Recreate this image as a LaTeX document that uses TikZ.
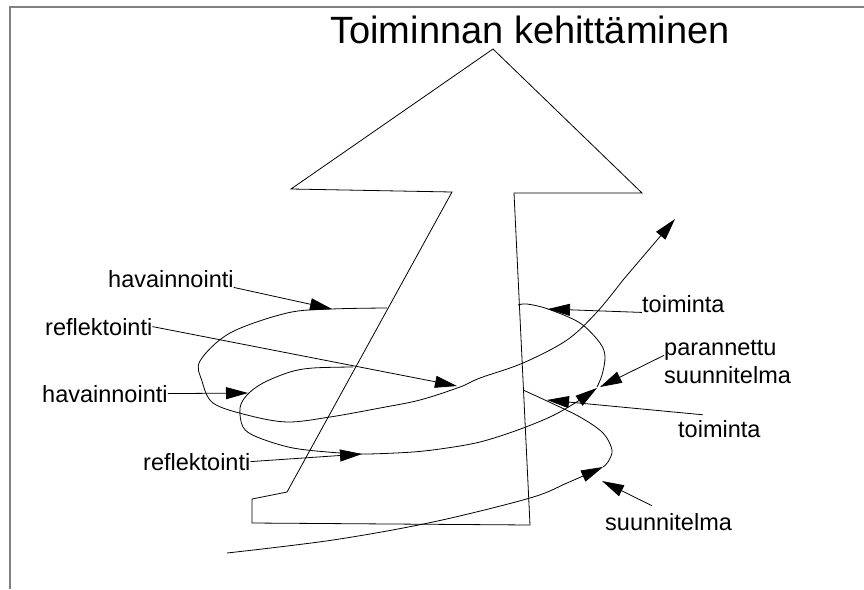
\documentclass[tikz,border=0pt]{standalone}
\usepackage{fontspec}
\setmainfont{Liberation Sans}
\usepackage{tikz}
\usetikzlibrary{arrows.meta, positioning, calc}
\definecolor{framecol}{RGB}{128,128,128}
\definecolor{inkcol}{RGB}{0,0,0}
\tikzset{
  lbl/.style={inner sep=0pt,anchor=base west,font=\fontsize{23.5}{28}\selectfont},
  heading/.style={inner sep=0pt,anchor=base,font=\fontsize{38}{45}\selectfont},
  pointer/.style={->,>={Triangle[length=22pt,width=12pt]},line width=0.8pt,inkcol},
  coil/.style={line width=0.8pt,inkcol},
  outline/.style={line width=0.8pt,inkcol,line join=miter},
}
\begin{document}
\begin{tikzpicture}[x=1pt,y=-1pt]
  \useasboundingbox (0,0) rectangle (864,589);
  \draw[framecol,line width=2pt] (10,589) -- (10,7) -- (864,7);
  \node[heading] (title) at (530,43) {Toiminnan kehittäminen};
  % big arrow
  \draw[outline] (493,49) -- (642,193) -- (514,193) -- (530,525) -- (252,523) -- (252,499)
    -- (287,492) -- (452,192) -- (291,189) -- cycle;
  % spiral
  \draw[coil] plot[smooth,tension=0.55] coordinates {(387,308) (332,309) (287,313) (230,333)
    (200,361) (202,381) (213,403) (247,415) (287,422) (330,417) (380,408) (420,400) (460,387)
    (480,378) (523,363) (567,340) (597,312) (623,280)};
  \draw[pointer] (623,280) -- (675,219);
  \draw[coil] plot[smooth,tension=0.55] coordinates {(518,305) (527,304) (548,309) (580,323)
    (600,343) (605,357) (602,375) (597,387)};
  \draw[pointer] plot[smooth,tension=0.55] coordinates {(353,367) (313,368) (290,372) (263,383)
    (247,395) (240,408) (243,427) (257,437) (293,448) (340,453) (367,454) (413,452) (447,448)
    (480,442) (515,431) (550,417) (575,403) (597,388)};
  \draw[coil] plot[smooth,tension=0.55] coordinates {(523,390) (547,401) (580,417) (603,433)
    (612,450) (608,462) (603,467)};
  \draw[pointer] plot[smooth,tension=0.55] coordinates {(227,553) (333,540) (433,522) (530,498)
    (567,483) (603,467)};
  % tips
  \coordinate (tHav1) at (332,309);
  \coordinate (tRef1) at (457,386);
  \coordinate (tHav2) at (248,393);
  \coordinate (tRef2) at (362,454);
  \coordinate (tToim1) at (548,309);
  \coordinate (tParan) at (600,387);
  \coordinate (tToim2) at (547,400);
  \coordinate (tSuun) at (602,481);
  % labels
  \node[lbl] (hav1) at (108,287) {havainnointi};
  \node[lbl] (ref1) at (45,335) {reflektointi};
  \node[lbl] (hav2) at (42,402) {havainnointi};
  \node[lbl] (ref2) at (143,470) {reflektointi};
  \node[lbl] (toim1) at (642,312) {toiminta};
  \node[lbl,anchor=north west,align=left] (paran) at (664,340) {parannettu\\suunnitelma};
  \node[lbl] (toim2) at (678,437) {toiminta};
  \node[lbl] (suun) at (605,530) {suunnitelma};
  \draw[pointer] (hav1.south east) -- (tHav1);
  \draw[pointer] (ref1.east) -- (tRef1);
  \draw[pointer] (hav2.east) -- (tHav2);
  \draw[pointer] (ref2.east) -- (tRef2);
  \draw[pointer] (toim1.south west) -- (tToim1);
  \draw[pointer] ($(paran.north west)!0.35!(paran.south west)$) -- (tParan);
  \draw[pointer] ($(toim2.north west)!0.3!(toim2.north east)+(0,-5)$) -- (tToim2);
  \draw[pointer] ($(suun.north west)!0.37!(suun.north east)+(0,-7)$) -- (tSuun);
\end{tikzpicture}
\end{document}
